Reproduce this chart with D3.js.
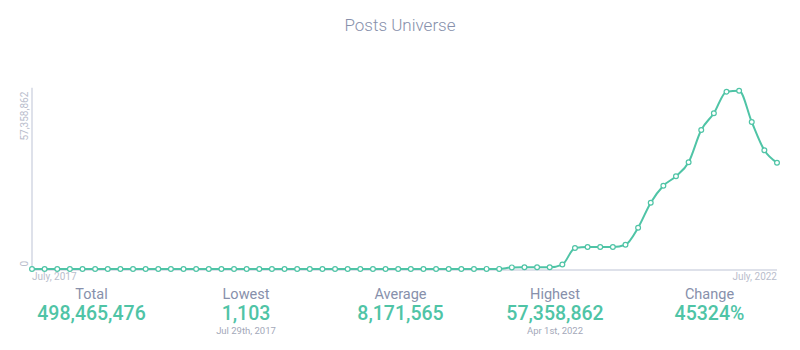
<!DOCTYPE html>
<html>
<head>
<meta charset="utf-8">
<script src="https://cdn.jsdelivr.net/npm/d3@7"></script>
<style>
  html, body { margin: 0; padding: 0; background: #fff; }
  #chart { width: 800px; height: 350px; }
  text { font-family: Roboto, "Noto Sans", sans-serif; }
</style>
</head>
<body>
<div id="chart"></div>
<script>
// monthly post counts, Jul 2017 .. Jun 2022
const months = d3.range(60);
const posts = [
  75400, 78200, 80100, 79500, 82300, 84800, 83900, 86200, 88700, 87400,
  89900, 91300, 90200, 92800, 94100, 93300, 95600, 97200, 96400, 98800,
  100300, 99100, 101700, 103200, 102500, 104900, 106400, 105300, 107800, 109600,
  108700, 111200, 113400, 112500, 115100, 118300, 121600, 126400, 610000, 640000,
  650000, 660000, 1520000, 6840000, 7160000, 7150000, 7170000, 7900000, 13360000, 21390000,
  26850000, 29870000, 34370000, 44740000, 50100000, 57040000, 57358862, 47310000, 38220000, 34240000
];
const yTicks = [0, 57358862];
const xLabels = ["July, 2017", "July, 2022"];

const statNames = ["Total", "Lowest", "Average", "Highest", "Change"];
const statValues = ["498,465,476", "1,103", "8,171,565", "57,358,862", "45324%"];
const statNotes = ["", "Jul 29th, 2017", "", "Apr 1st, 2022", ""];

const teal = "#4fc4a6";

function drawPosts(containerEl) {
  const fullW = 800, fullH = 350;
  const margin = { top: 90.7, right: 23, bottom: 80.7, left: 32 };
  const width = fullW - margin.left - margin.right;
  const height = fullH - margin.top - margin.bottom;

  const svg = d3.select(containerEl).append("svg")
    .attr("width", fullW)
    .attr("height", fullH);

  svg.append("text")
    .attr("x", 400)
    .attr("y", 31)
    .attr("text-anchor", "middle")
    .attr("fill", "#8790ab")
    .style("font-size", "17px")
    .style("font-weight", 300)
    .text("Posts Universe");

  const g = svg.append("g")
    .attr("transform", `translate(${margin.left},${margin.top})`);

  const x = d3.scaleLinear()
    .domain(d3.extent(months))
    .range([0, width]);

  const y = d3.scaleLinear()
    .domain([0, d3.max(posts)])
    .range([height, 0]);

  // axis lines
  g.append("line")
    .attr("x1", 0).attr("x2", 0)
    .attr("y1", -3).attr("y2", height + 0.7)
    .attr("stroke", "#d3d7e3")
    .attr("stroke-width", 1.5);
  g.append("line")
    .attr("x1", 0).attr("x2", width)
    .attr("y1", height + 0.7).attr("y2", height + 0.7)
    .attr("stroke", "#d3d7e3")
    .attr("stroke-width", 1.5);

  // y labels, rotated
  g.selectAll(".ylab")
    .data(yTicks)
    .enter()
    .append("text")
    .attr("class", "ylab")
    .attr("transform", d => `translate(-4,${d === 0 ? y(d) - 5.5 : y(d) + 1}) rotate(-90)`)
    .attr("text-anchor", d => d === 0 ? "middle" : "end")
    .attr("fill", "#b9bdcc")
    .style("font-size", "10px")
    .text(d => d3.format(",")(d));

  // x labels
  g.selectAll(".xlab")
    .data(xLabels)
    .enter()
    .append("text")
    .attr("class", "xlab")
    .attr("x", (d, i) => i === 0 ? 0 : width)
    .attr("y", height + 10.5)
    .attr("text-anchor", (d, i) => i === 0 ? "start" : "end")
    .attr("fill", "#b9bdcc")
    .style("font-size", "10px")
    .text(d => d);

  const line = d3.line()
    .x((d, i) => x(months[i]))
    .y(d => y(d))
    .curve(d3.curveMonotoneX);

  g.append("path")
    .datum(posts)
    .attr("fill", "none")
    .attr("stroke", teal)
    .attr("stroke-width", 2)
    .attr("d", line);

  g.selectAll(".dot")
    .data(posts)
    .enter()
    .append("circle")
    .attr("class", "dot")
    .attr("cx", (d, i) => x(months[i]))
    .attr("cy", d => y(d))
    .attr("r", 2.4)
    .attr("fill", "#fff")
    .attr("stroke", teal)
    .attr("stroke-width", 1.2);

  // stats row
  const colX = d3.scalePoint()
    .domain(statNames)
    .range([91.5, 709.5]);

  const stats = svg.selectAll(".stat")
    .data(statNames)
    .enter()
    .append("g")
    .attr("class", "stat")
    .attr("transform", d => `translate(${colX(d)},0)`);

  stats.append("text")
    .attr("y", 299)
    .attr("text-anchor", "middle")
    .attr("fill", "#8790ab")
    .style("font-size", "14.5px")
    .text(d => d);

  stats.append("text")
    .attr("y", 320)
    .attr("text-anchor", "middle")
    .attr("fill", teal)
    .style("font-size", "19.5px")
    .style("font-weight", 500)
    .text((d, i) => statValues[i]);

  stats.append("text")
    .attr("y", 333.5)
    .attr("text-anchor", "middle")
    .attr("fill", "#a3a8b9")
    .style("font-size", "9.5px")
    .text((d, i) => statNotes[i]);
}

drawPosts(document.getElementById("chart"));
</script>
</body>
</html>
